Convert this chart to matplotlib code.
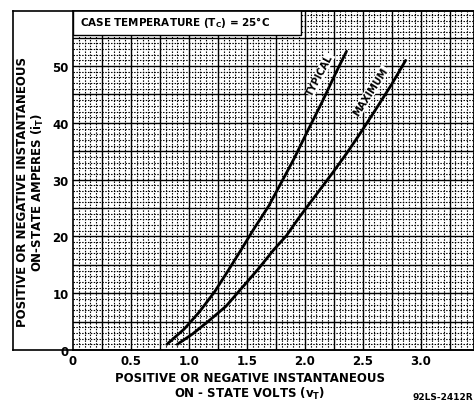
import numpy as np
import matplotlib.pyplot as plt
from matplotlib.patches import Rectangle

# on-state characteristic
typ_volts = [0.81, 0.96, 1.09, 1.22, 1.33, 1.44, 1.56, 1.69, 1.80, 1.91, 2.02, 2.15, 2.27, 2.36]
typ_amps = [1.0, 3.7, 6.7, 10.2, 13.7, 17.3, 21.3, 25.4, 29.6, 33.8, 38.4, 43.7, 48.9, 52.6]
max_volts = [0.90, 1.03, 1.17, 1.32, 1.46, 1.60, 1.73, 1.84, 1.95, 2.10, 2.24, 2.36, 2.47, 2.61, 2.75, 2.87]
max_amps = [1.0, 2.8, 5.1, 7.7, 11.0, 14.3, 17.6, 20.1, 23.3, 27.4, 31.2, 34.6, 37.9, 42.3, 46.8, 51.0]

x_ticks = [0, 0.5, 1.0, 1.5, 2.0, 2.5, 3.0]
x_labels = ["0", "0.5", "1.0", "1.5", "2.0", "2.5", "3.0"]
y_ticks = [0, 10, 20, 30, 40, 50]

plt.rcParams['font.family'] = ['DejaVu Sans']
plt.rcParams['font.weight'] = 'bold'

fig = plt.figure(figsize=(4.74, 4.06), dpi=100)
ax = fig.add_axes([73 / 474, 1 - 351 / 406, 1 - 73 / 474, (351 - 12) / 406])
ax.set_xlim(0, 3.46)
ax.set_ylim(0, 59.7)

# graph-paper grid
for v in np.arange(0.05, 3.46, 0.05):
    if abs(v / 0.25 - round(v / 0.25)) < 1e-6:
        ax.axvline(v, color='black', lw=1.0, zorder=1)
    else:
        ax.axvline(v, color='black', lw=0.8, ls=(0, (1.3, 1.3)), zorder=1)
for a in np.arange(1, 60, 1):
    if a % 5 == 0:
        ax.axhline(a, color='black', lw=1.0, zorder=1)
    else:
        ax.axhline(a, color='black', lw=0.8, ls=(0, (1.3, 1.3)), zorder=1)

ax.plot(typ_volts, typ_amps, color='black', lw=2.0, zorder=3, solid_capstyle='round')
ax.plot(max_volts, max_amps, color='black', lw=2.0, zorder=3, solid_capstyle='round')

ax.text(2.13, 48.5, "TYPICAL", rotation=62, ha='center', va='center',
        fontsize=7, fontweight='bold', zorder=4,
        bbox=dict(facecolor='white', edgecolor='none', pad=0.3))
ax.text(2.57, 45.6, "MAXIMUM", rotation=57, ha='center', va='center',
        fontsize=7, fontweight='bold', zorder=4,
        bbox=dict(facecolor='white', edgecolor='none', pad=0.3))

# case temperature box
ax.add_patch(Rectangle((0, 55.5), 1.97, 5, facecolor='white', edgecolor='black',
                       lw=1.0, zorder=5))
ax.text(0.06, 57.8, "CASE TEMPERATURE (T$_\\mathbf{C}$) = 25°C", ha='left', va='center',
        fontsize=7.5, fontweight='bold', zorder=6)

ax.set_xticks(x_ticks)
ax.set_xticklabels(x_labels)
ax.set_yticks(y_ticks)
ax.tick_params(length=0, labelsize=8.5, pad=3)
for lab in ax.get_xticklabels() + ax.get_yticklabels():
    lab.set_fontweight('bold')
for s in ax.spines.values():
    s.set_linewidth(1.2)

# outer frame
fig.add_artist(plt.Line2D([13 / 474, 13 / 474], [1 - 351 / 406, 1 - 12 / 406],
                          color='black', lw=1.2))
fig.add_artist(plt.Line2D([13 / 474, 1], [1 - 12 / 406, 1 - 12 / 406],
                          color='black', lw=1.2))
fig.add_artist(plt.Line2D([13 / 474, 1], [1 - 351 / 406, 1 - 351 / 406],
                          color='black', lw=1.2))

fig.text(31 / 474, 1 - 192 / 406,
         "POSITIVE OR NEGATIVE INSTANTANEOUS\nON-STATE AMPERES (i$_\\mathbf{T}$)",
         rotation=90, ha='center', va='center', fontsize=8.5, fontweight='bold',
         multialignment='center', linespacing=1.1)
fig.text(250 / 474, 1 - 387 / 406,
         "POSITIVE OR NEGATIVE INSTANTANEOUS\nON - STATE VOLTS (v$_\\mathbf{T}$)",
         ha='center', va='center', fontsize=8.5, fontweight='bold',
         multialignment='center', linespacing=1.1)
fig.text(0.998, 1 - 398 / 406, "92LS-2412R", ha='right', va='center',
         fontsize=6.5, fontweight='bold')

fig.savefig("out.png", dpi=100)
